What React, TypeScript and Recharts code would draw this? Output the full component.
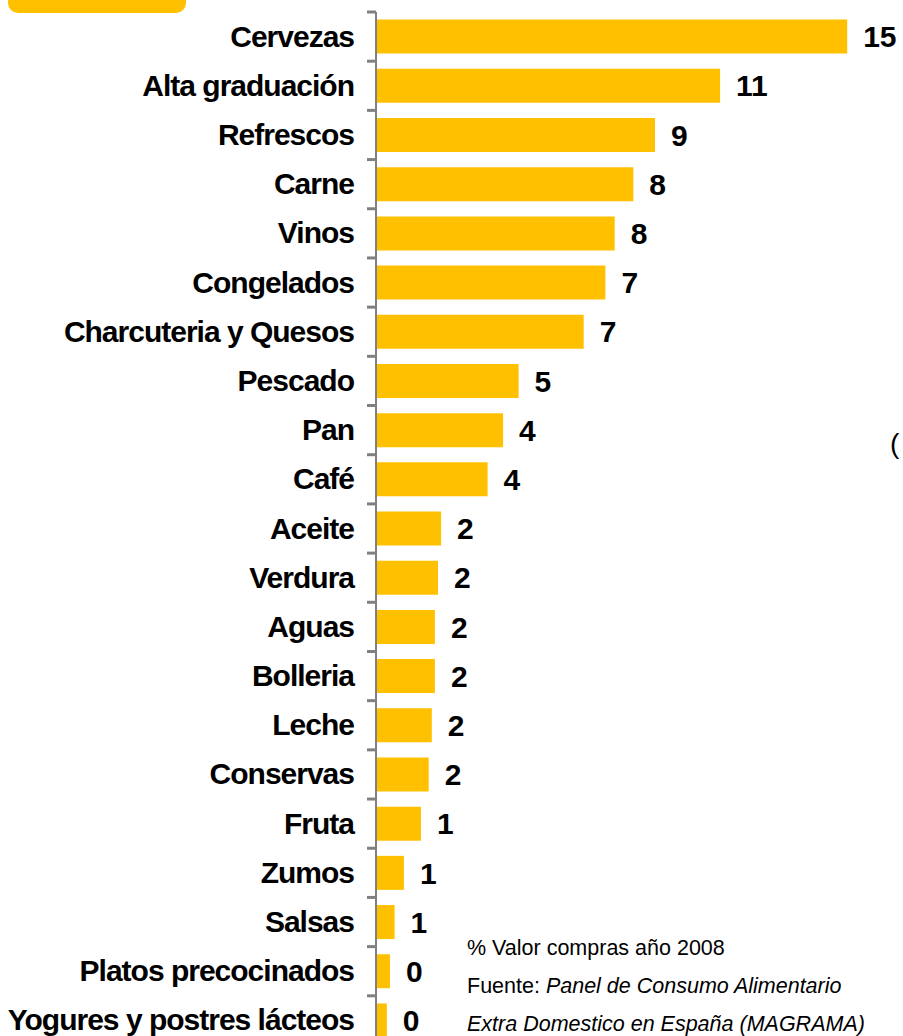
import React from 'react';
import { BarChart, Bar, XAxis, YAxis, LabelList } from 'recharts';

const categories = [
  'Cervezas', 'Alta graduación', 'Refrescos', 'Carne', 'Vinos', 'Congelados',
  'Charcuteria y Quesos', 'Pescado', 'Pan', 'Café', 'Aceite', 'Verdura', 'Aguas',
  'Bolleria', 'Leche', 'Conservas', 'Fruta', 'Zumos', 'Salsas',
  'Platos precocinados', 'Yogures y postres lácteos',
];
const values = [
  15.2, 11.1, 9.0, 8.3, 7.7, 7.4, 6.7, 4.6, 4.1, 3.6, 2.1, 2.0, 1.9,
  1.9, 1.8, 1.7, 1.45, 0.9, 0.6, 0.45, 0.35,
];

const data = categories.map((name, i) => ({ name, value: values[i] }));

const CHART_H = 1050;
const TOP = 12;
const BOTTOM = 5;
const BAND = (CHART_H - TOP - BOTTOM) / categories.length;

const CategoryTick = (props: any) => {
  const { x, y, payload } = props;
  return (
    <g>
      <line x1={x - 9} x2={x} y1={y - BAND / 2} y2={y - BAND / 2} stroke="#808080" strokeWidth={3} />
      <text
        x={x - 22}
        y={y}
        dy={10}
        textAnchor="end"
        fontFamily="'Liberation Sans', Arial, sans-serif"
        fontWeight="bold"
        fontSize={30}
        letterSpacing={-1}
        fill="#000"
      >
        {payload.value}
      </text>
    </g>
  );
};

export default function App() {
  return (
    <div style={{ position: 'absolute', left: 0, top: 0, width: 903, height: 1036, overflow: 'hidden', background: '#fff' }}>
      <div style={{ position: 'absolute', left: 8, top: -12, width: 178, height: 25, background: '#FFC000', borderRadius: 10 }} />
      <BarChart
        width={903}
        height={CHART_H}
        data={data}
        layout="vertical"
        barCategoryGap="15.5%"
        margin={{ top: TOP, right: 31, left: 0, bottom: BOTTOM }}
      >
        <XAxis type="number" domain={[0, 16]} hide />
        <YAxis
          type="category"
          dataKey="name"
          width={376}
          tickSize={0}
          tickMargin={0}
          axisLine={{ stroke: '#808080', strokeWidth: 2 }}
          tick={<CategoryTick />}
          interval={0}
        />
        <Bar dataKey="value" fill="#FFC000" isAnimationActive={false}>
          <LabelList
            dataKey="value"
            position="right"
            offset={16}
            formatter={(v: any) => Math.round(Number(v))}
            style={{ fontFamily: "'Liberation Sans', Arial, sans-serif", fontWeight: 'bold', fontSize: 30, fill: '#000' }}
          />
        </Bar>
      </BarChart>
      <div style={{ position: 'absolute', left: 890, top: 428, fontFamily: "'Liberation Sans', Arial, sans-serif", fontSize: 28 }}>(</div>
      <div
        style={{
          position: 'absolute',
          left: 467,
          top: 929,
          fontFamily: "'Liberation Sans', Arial, sans-serif",
          fontSize: 21.5,
          lineHeight: '38px',
          color: '#000',
          whiteSpace: 'nowrap',
        }}
      >
        <div>% Valor compras año 2008</div>
        <div>Fuente: <i>Panel de Consumo Alimentario</i></div>
        <div><i>Extra Domestico en España (MAGRAMA)</i></div>
      </div>
    </div>
  );
}
